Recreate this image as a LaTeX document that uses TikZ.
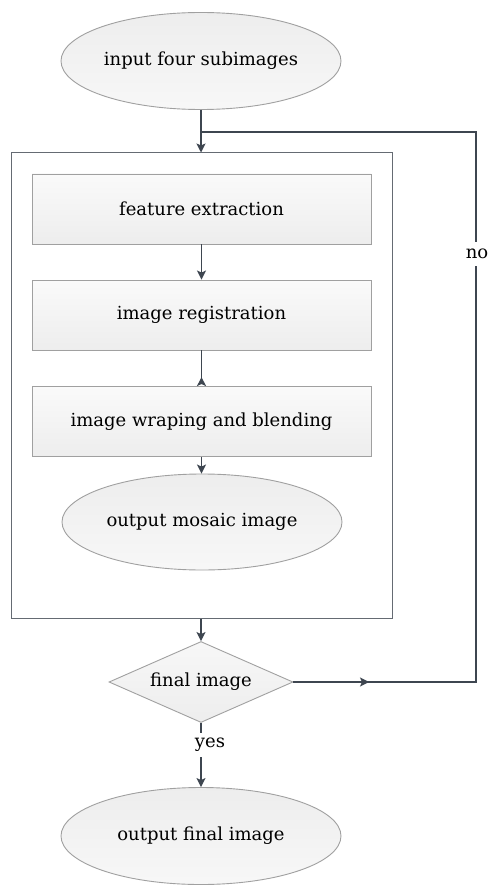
\documentclass[tikz,border=0pt]{standalone}
\usepackage{fontspec}
\setmainfont{DejaVu Serif}
\usetikzlibrary{shapes.geometric,arrows.meta}
\definecolor{linec}{HTML}{3E4650}
\definecolor{bordc}{HTML}{A0A0A0}
\begin{document}
\begin{tikzpicture}[x=1pt,y=-1pt,
  txt/.style={font=\fontsize{18}{20}\selectfont, text=black},
  ell/.style={ellipse, draw=bordc, line width=0.9pt, top color=gray!14, bottom color=gray!6, minimum width=280pt, minimum height=97pt, inner sep=0pt, txt},
  boxx/.style={rectangle, draw=bordc, line width=0.9pt, top color=gray!4, bottom color=gray!14, minimum width=339pt, minimum height=70pt, inner sep=0pt, txt},
  dia/.style={diamond, draw=bordc, line width=0.9pt, top color=gray!6, bottom color=gray!14, aspect=2.27, minimum width=184pt, minimum height=81pt, inner sep=0pt, txt},
  conn/.style={draw=linec, line width=1.2pt},
  arr/.style={conn, -{Stealth[length=9pt,width=9pt,inset=2pt]}},
  rarr/.style={conn, -{Stealth[length=9pt,width=9pt,inset=2pt,reversed]}},
  lbl/.style={fill=white, inner xsep=2pt, inner ysep=7pt, txt}
]
\useasboundingbox (0,0) rectangle (490,885);
\fill[white] (0,0) rectangle (490,885);

\node[rectangle, draw=linec!80, line width=1pt, minimum width=381pt, minimum height=465pt, inner sep=0pt] (outer) at (201.5,385.5) {};

\node[ell] (in) at (201,61) {input four subimages};
\node[boxx] (fe) at (201.5,209) {feature extraction};
\node[boxx] (ir) at (201.5,315) {image registration};
\node[boxx] (iw) at (201.5,421.5) {image wraping and blending};
\node[ell, minimum height=96pt] (om) at (202,522) {output mosaic image};
\node[dia] (fin) at (201,682) {final image};
\node[ell] (out) at (201,836) {output final image};

\coordinate (j) at (201,132);
\coordinate (rt) at (476,132);
\coordinate (rb) at (476,682);
\coordinate (mid) at (369,682);

\draw[arr] (in.south) -- (in.south |- outer.north);
\draw[conn] (j) -- (rt) -- (rb) -- (fin.east);
\draw[arr] (fin.east) -- (mid);
\node[lbl] (no) at (477,254) {no};

\draw[arr] (fe.south) -- (fe.south |- ir.north);
\draw[rarr] (ir.south) -- (ir.south |- iw.north);
\draw[arr] (iw.south) -- (iw.south |- om.north);
\draw[arr] (outer.south -| fin.north) -- (fin.north);
\draw[arr] (fin.south) -- (out.north);
\node[lbl, inner ysep=5pt] (yes) at (210,745) {yes};
\end{tikzpicture}
\end{document}
